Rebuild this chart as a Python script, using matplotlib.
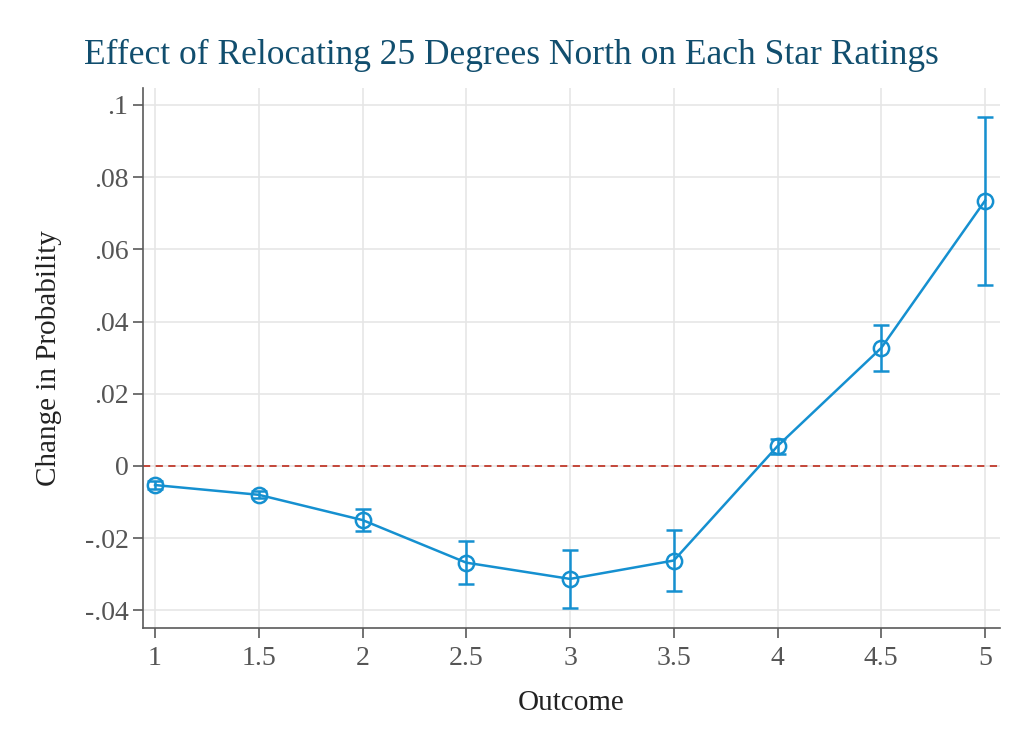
import matplotlib
matplotlib.use("Agg")
import matplotlib.pyplot as plt

outcome = [1, 1.5, 2, 2.5, 3, 3.5, 4, 4.5, 5]
effect = [-0.0053, -0.0080, -0.0150, -0.0268, -0.0313, -0.0262, 0.0055, 0.0327, 0.0735]
ci_low = [-0.0063, -0.0090, -0.0180, -0.0328, -0.0393, -0.0346, 0.0033, 0.0264, 0.0502]
ci_high = [-0.0043, -0.0070, -0.0120, -0.0208, -0.0234, -0.0177, 0.0075, 0.0391, 0.0968]
yticks = [-0.04, -0.02, 0, 0.02, 0.04, 0.06, 0.08, 0.1]
ylabels = ["-.04", "-.02", "0", ".02", ".04", ".06", ".08", ".1"]
xticks = [1, 1.5, 2, 2.5, 3, 3.5, 4, 4.5, 5]
xlabels = ["1", "1.5", "2", "2.5", "3", "3.5", "4", "4.5", "5"]

plt.rcParams["font.family"] = ["Liberation Serif", "DejaVu Serif"]
blue = "#1590d0"
gray = "#5a5a5a"

fig = plt.figure(figsize=(10.22, 7.46), dpi=100)
ax = fig.add_axes([143 / 1022, 1 - 628 / 746, (1000 - 143) / 1022, (628 - 88) / 746])

err = [[e - l for e, l in zip(effect, ci_low)], [h - e for e, h in zip(effect, ci_high)]]
ax.axhline(0, color="#c0392b", lw=1.3, ls=(0, (4, 3)), zorder=2)
ax.errorbar(outcome, effect, yerr=err, color=blue, lw=1.8, marker="o", ms=11,
            mfc="none", mec=blue, mew=1.8, capsize=6, capthick=1.8, elinewidth=1.8, zorder=3)

ax.set_xlim(0.942, 5.072)
ax.set_ylim(-0.0449, 0.1047)
ax.set_xticks(xticks)
ax.set_xticklabels(xlabels)
ax.set_yticks(yticks)
ax.set_yticklabels(ylabels)
ax.grid(True, color="#e6e6e6", lw=1.2)
ax.set_axisbelow(True)
for s in ["top", "right"]:
    ax.spines[s].set_visible(False)
for s in ["left", "bottom"]:
    ax.spines[s].set_color(gray)
    ax.spines[s].set_linewidth(1.2)
ax.tick_params(colors=gray, labelsize=20, length=7, width=1.2, labelcolor="#555555")
ax.tick_params(axis="x", pad=6)

ax.set_xlabel("Outcome", fontsize=21, color="#222222", labelpad=14)
ax.set_ylabel("Change in Probability", fontsize=21, color="#222222", labelpad=16)
fig.suptitle("Effect of Relocating 25 Degrees North on Each Star Ratings", x=0.5, y=0.948,
             fontsize=25.5, color="#114e6e")

fig.savefig("out.png", dpi=100, facecolor="white")
